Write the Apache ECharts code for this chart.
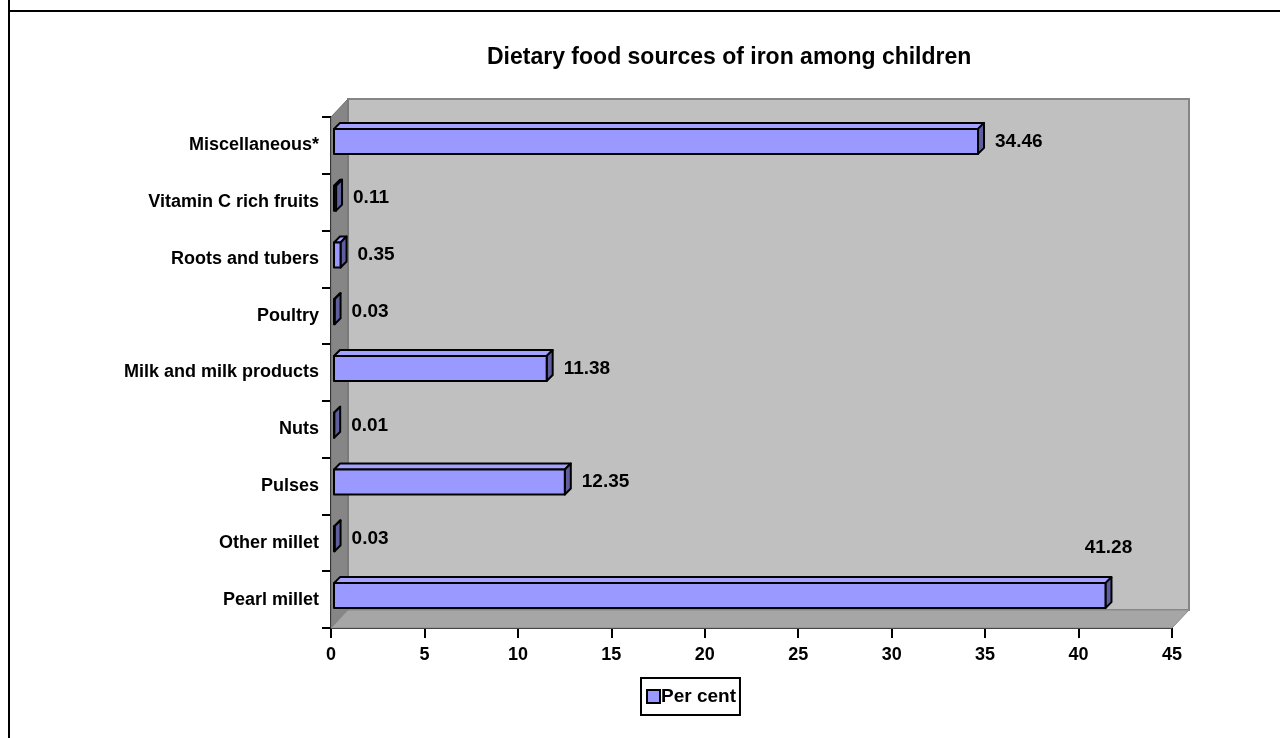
<!DOCTYPE html>
<html>
<head>
<meta charset="utf-8">
<script src="https://cdn.jsdelivr.net/npm/echarts@6/dist/echarts.min.js"></script>
<style>
  html, body { margin: 0; padding: 0; background: #fff; }
  #chart { width: 1280px; height: 738px; }
</style>
</head>
<body>
<div id="chart"></div>
<script>
// data
const categories = ['Pearl millet', 'Other millet', 'Pulses', 'Nuts', 'Milk and milk products',
  'Poultry', 'Roots and tubers', 'Vitamin C rich fruits', 'Miscellaneous*'];
const percent = [41.28, 0.03, 12.35, 0.01, 11.38, 0.03, 0.35, 0.11, 34.46];
const xTicks = { min: 0, max: 45, interval: 5 };
const seriesName = 'Per cent';

const FONT = 'Liberation Sans, Arial, sans-serif';
const DEPTH_X = 17, DEPTH_Y = 18;   // wall depth
const BAR_D = 6;                      // bar depth

var myChart = echarts.init(document.getElementById('chart'));

// walls of the 3d box behind the bars
function renderWalls(params, api) {
  const cs = params.coordSys;
  const x0 = cs.x, y0 = cs.y, x1 = cs.x + cs.width, y1 = cs.y + cs.height;
  return {
    type: 'group',
    children: [
      { type: 'rect', shape: { x: x0 + DEPTH_X, y: y0 - DEPTH_Y, width: cs.width, height: cs.height },
        style: { fill: '#c0c0c0', stroke: '#858585', lineWidth: 2 } },
      { type: 'polygon', shape: { points: [[x0, y0], [x0 + DEPTH_X, y0 - DEPTH_Y], [x0 + DEPTH_X, y1 - DEPTH_Y], [x0, y1]] },
        style: { fill: '#868686', stroke: '#6e6e6e', lineWidth: 1 } },
      { type: 'polygon', shape: { points: [[x0, y1], [x0 + DEPTH_X, y1 - DEPTH_Y], [x1 + DEPTH_X, y1 - DEPTH_Y], [x1, y1]] },
        style: { fill: '#a6a6a6', stroke: '#8a8a8a', lineWidth: 1 } }
    ]
  };
}

// one 3d bar: front, top and side faces, plus its label
function renderBar(params, api) {
  const cs = params.coordSys;
  const idx = api.value(1);
  const val = api.value(0);
  const start = api.coord([0, idx]);
  const end = api.coord([val, idx]);
  const band = api.size([0, 1])[1];
  const h = band * 0.44;
  const xa = start[0] + 3, xb = end[0] + 3;
  const cy = start[1] - 4;
  const ya = cy - h / 2, yb = cy + h / 2;
  const d = BAR_D;
  const st = { stroke: '#000', lineWidth: 2, lineJoin: 'round' };
  const label = val.toFixed(2);
  const font = 'bold 19px ' + FONT;
  let text;
  if (xb + d + 70 > cs.x + cs.width) {
    text = { type: 'text', x: xb + d / 2, y: ya - d - 29,
      style: { text: label, font: font, fill: '#000', align: 'center', verticalAlign: 'middle' } };
  } else {
    text = { type: 'text', x: xb + d + 11, y: cy,
      style: { text: label, font: font, fill: '#000', align: 'left', verticalAlign: 'middle' } };
  }
  return {
    type: 'group',
    children: [
      { type: 'polygon', shape: { points: [[xa, ya], [xb, ya], [xb + d, ya - d], [xa + d, ya - d]] },
        style: Object.assign({ fill: '#a3a3ff' }, st) },
      { type: 'polygon', shape: { points: [[xb, ya], [xb + d, ya - d], [xb + d, yb - d], [xb, yb]] },
        style: Object.assign({ fill: '#5f5f9e' }, st) },
      { type: 'rect', shape: { x: xa, y: ya, width: xb - xa, height: yb - ya },
        style: Object.assign({ fill: '#9999ff' }, st) },
      text
    ]
  };
}

var option = {
  animation: false,
  backgroundColor: '#fff',
  title: {
    text: 'Dietary food sources of iron among children',
    left: 482,
    top: 41,
    textStyle: { fontFamily: FONT, fontSize: 23, fontWeight: 'bold', color: '#000' }
  },
  legend: {
    data: [{ name: seriesName, icon: 'rect' }],
    left: 641,
    top: 678,
    padding: [9, 4, 9, 5],
    itemWidth: 13,
    itemHeight: 13,
    borderColor: '#000',
    borderWidth: 2,
    itemStyle: { color: '#9999ff', borderColor: '#000', borderWidth: 2 },
    textStyle: { fontFamily: FONT, fontSize: 19, fontWeight: 'bold', color: '#000', padding: [0, 0, 0, -4] }
  },
  grid: { left: 331, right: 108, top: 117, bottom: 110 },
  xAxis: {
    type: 'value',
    min: xTicks.min,
    max: xTicks.max,
    interval: xTicks.interval,
    axisLine: { show: true, lineStyle: { color: '#000', width: 2 } },
    axisTick: { show: true, length: 10, lineStyle: { color: '#000', width: 2 } },
    axisLabel: { margin: 18, fontFamily: FONT, fontSize: 18, fontWeight: 'bold', color: '#000' },
    splitLine: { show: false }
  },
  yAxis: {
    type: 'category',
    data: categories,
    axisLine: { show: true, lineStyle: { color: '#000', width: 2 } },
    axisTick: { show: true, length: 9, lineStyle: { color: '#000', width: 2 } },
    axisLabel: { margin: 12, padding: [6, 0, 0, 0], fontFamily: FONT, fontSize: 18, fontWeight: 'bold', color: '#000' }
  },
  series: [
    {
      type: 'custom',
      name: 'walls',
      renderItem: renderWalls,
      data: [[0, 0]],
      z: 1,
      silent: true
    },
    {
      type: 'custom',
      name: seriesName,
      renderItem: renderBar,
      itemStyle: { color: '#9999ff', borderColor: '#000', borderWidth: 2 },
      encode: { x: 0, y: 1 },
      data: percent.map((v, i) => [v, i]),
      z: 3
    }
  ],
  graphic: [
    { type: 'line', shape: { x1: 9, y1: 0, x2: 9, y2: 738 }, style: { stroke: '#000', lineWidth: 2 } },
    { type: 'line', shape: { x1: 9, y1: 11, x2: 1280, y2: 11 }, style: { stroke: '#000', lineWidth: 2 } }
  ]
};

myChart.setOption(option);
</script>
</body>
</html>
